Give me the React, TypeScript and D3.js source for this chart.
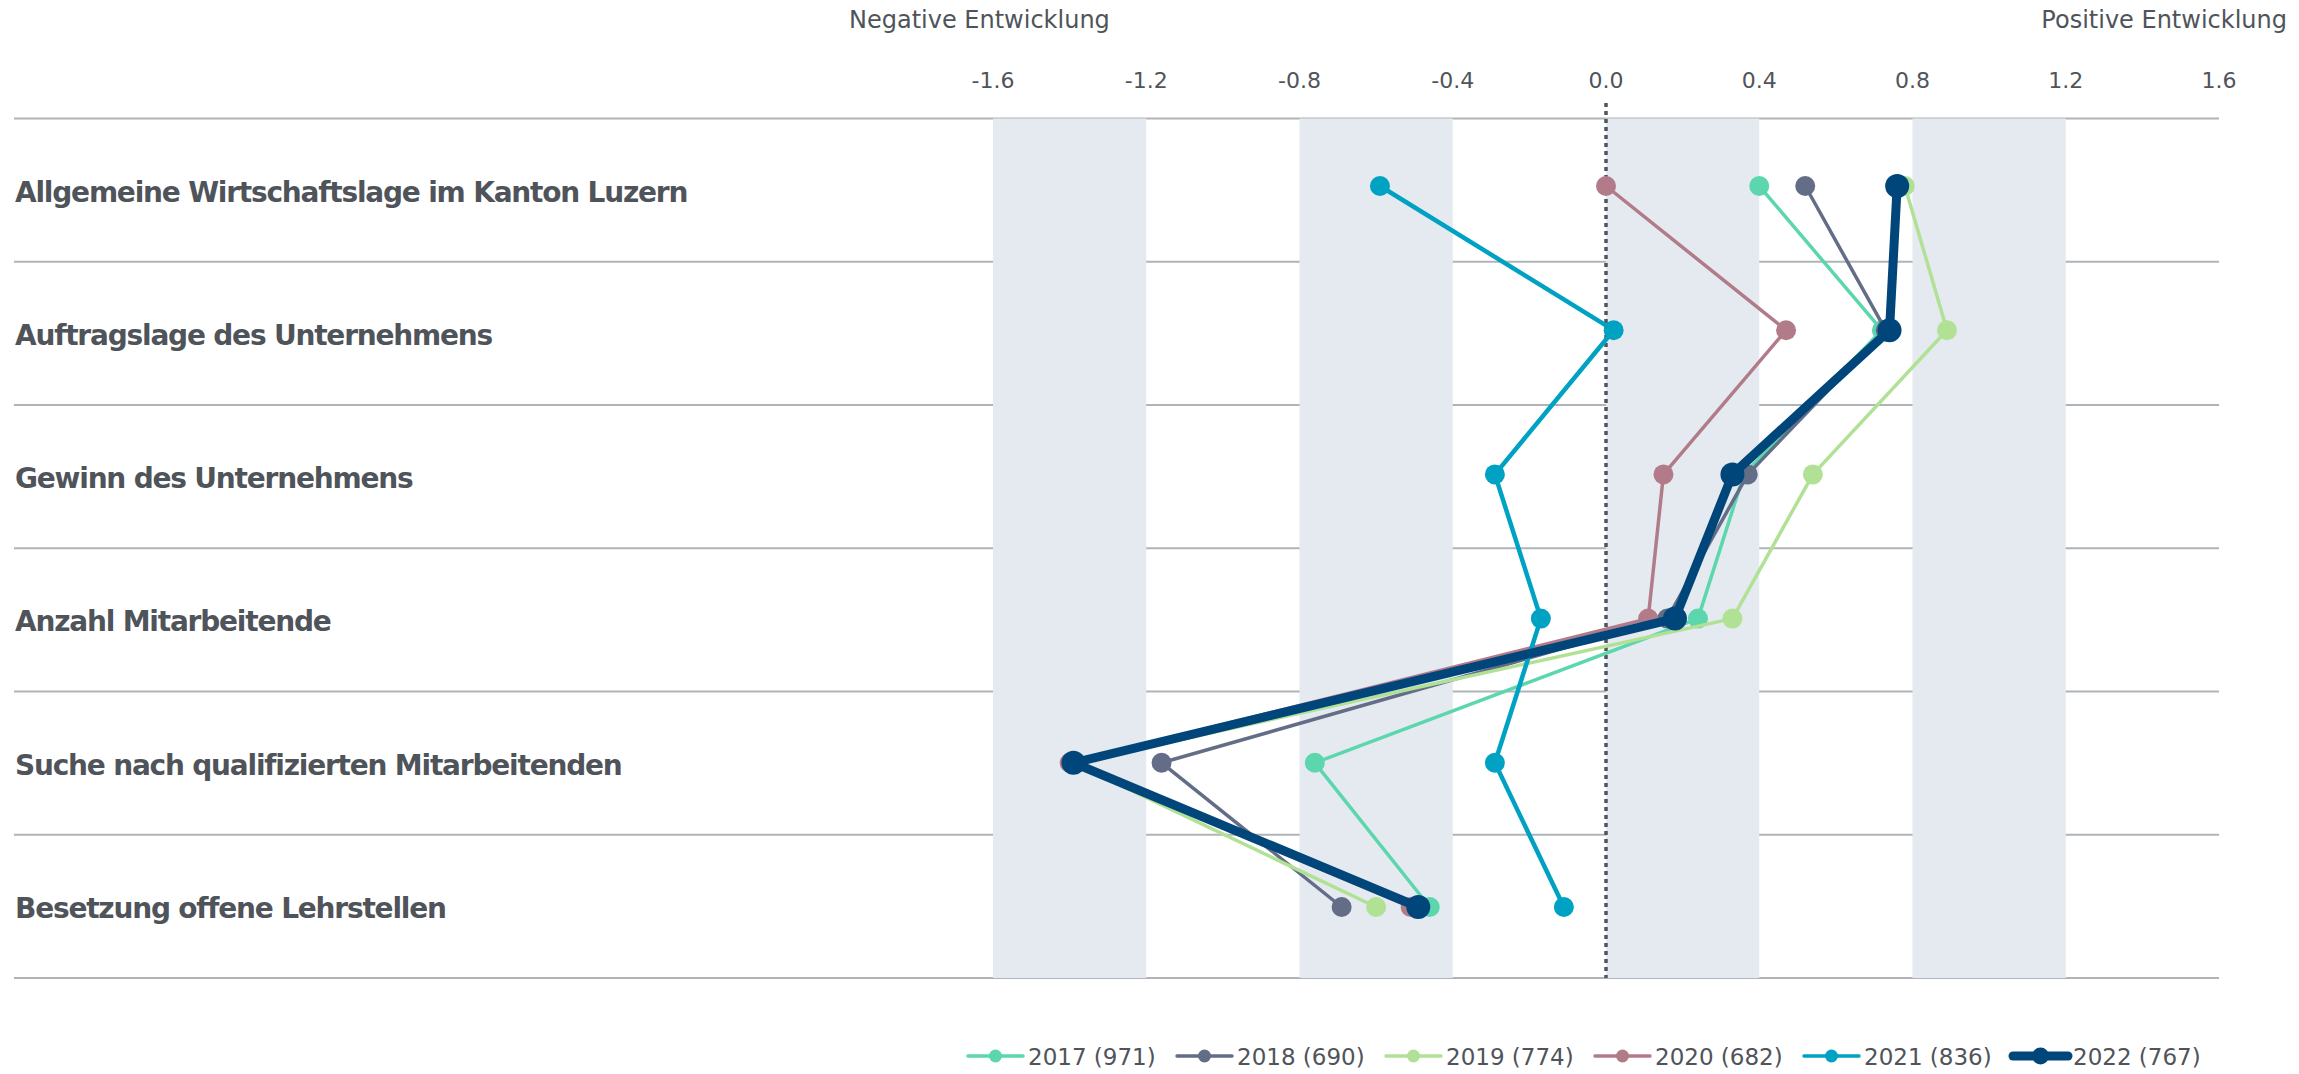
import * as d3 from 'd3'

const categories = [
  'Allgemeine Wirtschaftslage im Kanton Luzern',
  'Auftragslage des Unternehmens',
  'Gewinn des Unternehmens',
  'Anzahl Mitarbeitende',
  'Suche nach qualifizierten Mitarbeitenden',
  'Besetzung offene Lehrstellen',
]

const years = ['2017 (971)', '2018 (690)', '2019 (774)', '2020 (682)', '2021 (836)', '2022 (767)']

const v2017 = [0.40, 0.72, 0.36, 0.24, -0.76, -0.46]
const v2018 = [0.52, 0.73, 0.37, 0.16, -1.16, -0.69]
const v2019 = [0.78, 0.89, 0.54, 0.33, -1.39, -0.60]
const v2020 = [0.00, 0.47, 0.15, 0.11, -1.40, -0.51]
const v2021 = [-0.59, 0.02, -0.29, -0.17, -0.29, -0.11]
const v2022 = [0.76, 0.74, 0.33, 0.18, -1.39, -0.49]

const ticks = [-1.6, -1.2, -0.8, -0.4, 0, 0.4, 0.8, 1.2, 1.6]
const bands: [number, number][] = [[-1.6, -1.2], [-0.8, -0.4], [0, 0.4], [0.8, 1.2]]

const series = [
  { label: years[0], values: v2017, color: '#5cd6ad', width: 3.5, r: 10 },
  { label: years[1], values: v2018, color: '#636d87', width: 3.5, r: 10 },
  { label: years[2], values: v2019, color: '#b1e195', width: 3.5, r: 10 },
  { label: years[3], values: v2020, color: '#b27b89', width: 3.5, r: 10 },
  { label: years[4], values: v2021, color: '#00a2c3', width: 4.5, r: 10 },
  { label: years[5], values: v2022, color: '#00467a', width: 9, r: 12 },
]

const W = 2299
const H = 1074
const top = 118.5
const bottom = 978
const gridLeft = 14

export default function App(){
  const x = d3.scaleLinear().domain([-1.6, 1.6]).range([993, 2219])
  // rows for grid lines and labels
  const y = d3.scaleBand<string>().domain(categories).range([top, bottom])
  const rowMid = (c: string) => (y(c) ?? 0) + y.bandwidth() / 2
  // marker positions sit slightly off the row centres in the original
  const py = d3.scalePoint<string>().domain(categories).range([186, 907])
  const line = d3.line<number>()
    .x(d => x(d))
    .y((_, i) => py(categories[i]) ?? 0)

  const fmt = (t: number) => d3.format('.1f')(t).replace('\u2212', '-')
  const textColor = '#4f545a'
  const font = '"DejaVu Sans", Verdana, sans-serif'

  return (
    <svg width={W} height={H} style={{ position: 'absolute', left: 0, top: 0, display: 'block' }} fontFamily={font}>
      <rect width={W} height={H} fill="#fff" />

      {/* row grid lines */}
      {[...categories.map(c => y(c) ?? 0), bottom].map((gy, i) => (
        <line key={i} x1={gridLeft} x2={x(1.6)} y1={gy} y2={gy} stroke="#b0b4b8" strokeWidth={2} />
      ))}

      {/* shaded bands */}
      {bands.map((b, i) => (
        <rect key={i} x={x(b[0])} y={top} width={x(b[1]) - x(b[0])} height={bottom - top} fill="#e4eaef" />
      ))}

      {/* zero line */}
      <line x1={x(0)} x2={x(0)} y1={103} y2={bottom} stroke="#50555b" strokeWidth={3.5} strokeDasharray="4 4" />

      {/* tick labels */}
      {ticks.map(t => (
        <text key={t} x={x(t)} y={88} textAnchor="middle" fontSize={22} fill={textColor}>{fmt(t)}</text>
      ))}
      <text x={849} y={28} fontSize={24} fill={textColor}>Negative Entwicklung</text>
      <text x={2287} y={28} textAnchor="end" fontSize={24} fill={textColor}>Positive Entwicklung</text>

      {/* category labels */}
      {categories.map(c => (
        <text key={c} x={15} y={rowMid(c) + 11.5} fontSize={28} fontWeight="bold" letterSpacing={-1.2} fill={textColor}>{c}</text>
      ))}

      {/* series */}
      {series.map(s => (
        <g key={s.label}>
          <path d={line(s.values) ?? ''} fill="none" stroke={s.color} strokeWidth={s.width} strokeLinejoin="round" />
          {s.values.map((v, i) => (
            <circle key={i} cx={x(v)} cy={py(categories[i]) ?? 0} r={s.r} fill={s.color} />
          ))}
        </g>
      ))}

      {/* legend */}
      {series.map((s, i) => {
        const lx = 968 + i * 209
        const ly = 1056
        return (
          <g key={s.label} transform={`translate(${lx},${ly})`}>
            <line x1={0} x2={55} y1={0} y2={0} stroke={s.color} strokeWidth={i === 5 ? 9 : 3.5} strokeLinecap="round" />
            <circle cx={27.5} cy={0} r={i === 5 ? 8.5 : 6.5} fill={s.color} />
            <text x={60} y={8.5} fontSize={23} fill={textColor}>{s.label}</text>
          </g>
        )
      })}
    </svg>
  )
}
